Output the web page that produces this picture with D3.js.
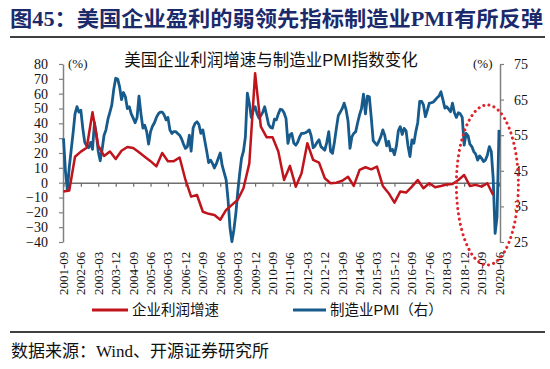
<!DOCTYPE html>
<html><head><meta charset="utf-8">
<script src="https://cdn.jsdelivr.net/npm/d3@7"></script>
<style>body{margin:0;background:#fff}svg{display:block}</style>
</head><body>
<svg id="c" width="550" height="369"></svg>
<script>
const startMonth = "2001-09";
const tickLabels = ["2001-09","2002-06","2003-03","2003-12","2004-09","2005-06","2006-03","2006-12","2007-09","2008-06","2009-03","2009-12","2010-09","2011-06","2012-03","2012-12","2013-09","2014-06","2015-03","2015-12","2016-09","2017-06","2018-03","2018-12","2019-09","2020-06"];
const leftTicks = [80,70,60,50,40,30,20,10,0,-10,-20,-30,-40];
const rightTicks = [75,65,55,45,35,25];
// 企业利润增速 (quarterly, from 2001-09)
const profitGrowth = [-6,-5.3,17.5,20.9,23.5,47.5,25,18,21,16,21.5,24,23.3,20.5,17.5,14.5,11,20,14.5,14.5,17,2,-9.4,-8.3,-19.6,-21,-21.8,-25,-18.4,-15,-11.6,-3.8,13,73.8,37.8,30.6,30.6,21,1.8,11.3,-2.7,6.3,26.6,15.3,13.5,3,-0.4,0,1.3,4,-2.2,8.6,10.4,9,10.8,-2.2,-7.1,-13.5,-6,-6.7,-2.7,1.8,-3.8,-0.4,-3.1,-2.2,-1.2,-0.9,1.8,5.2,-2.2,-1.5,-2.7,-0.4,-8.3];
// 制造业PMI (monthly, from 2001-09)
const pmi = [54.1,45,39.5,46,51,56,61,63,61.5,62,57,53,52,51.5,53,51,58.5,55,50.5,47.8,51,55,56.5,59.5,61.5,63.5,68,71,70.8,68.5,65,67,65.8,62.5,63,61,59.8,58.5,60,66,61,57,57.8,56,52.5,56,57.5,58.5,60,61,61.5,61.5,60.7,59.3,60,56.5,55.5,56,56,55.5,55,54,52.5,51.3,51.8,55,50.5,57,58.3,58.8,58,55.5,56.5,53.5,50.5,47.3,48,47,45.8,47,48.5,50,46.5,44.5,42.5,37,29,25.1,28.4,33,38.7,44,48.5,50.5,54.5,66.8,64,60,62,63,61,59.8,60.5,61.5,63,60.5,58,57.2,57,59.5,59.3,61,62.3,62.1,61.3,59.7,52.7,55.1,55.5,52.8,52.2,53,54.5,55.5,55.5,55.7,56,56.5,54.8,51.5,52,53,53.7,51.8,51.3,50.8,53,56,50.5,49.9,53,57,60.5,61.5,62.5,64,62.1,59,51.3,54.6,55.5,56,58.5,60.8,62.5,66.5,61,66,65.8,60,53.5,52.8,52.2,53.3,54.6,56.5,55,52,53.3,50.6,51,49.5,52,56.3,57.4,55.2,56.9,56.2,52,49,53.7,52.7,56,58.5,64.5,64.5,63.5,60.2,62,64,64.1,64.3,64.9,65.5,66,67.2,65,62.6,63,62.3,61.6,64,61.3,60,61.3,61,60,52.2,55.5,54.8,52.5,51.8,50.4,49.7,48,49.2,48.5,47.6,48,49.4,51.8,50.4,43,27.4,32.1,56.5];

const svg = d3.select("#c");
const parse = d3.timeParse("%Y-%m");
const t0 = parse(startMonth);
const t1 = d3.timeMonth.offset(t0, pmi.length - 1);
const x = d3.scaleTime().domain([t0, t1]).range([63.5, 499]);
const yL = d3.scaleLinear().domain([-40, 80]).range([242, 64]);
const yR = d3.scaleLinear().domain([25, 75]).range([242, 64]);
const serif = "'Liberation Serif','Times New Roman',serif";
const sans = "'Liberation Sans','Noto Sans CJK SC',sans-serif";
const axisCol = "#808080";

// title
svg.append("text").attr("x", 10).attr("y", 26)
  .attr("font-family", "'Liberation Serif','Noto Sans CJK SC',serif")
  .attr("font-weight", "bold").attr("font-size", 21).attr("fill", "#1b2a6b")
  .attr("textLength", 533).attr("lengthAdjust", "spacingAndGlyphs")
  .text("图45：美国企业盈利的弱领先指标制造业PMI有所反弹");
svg.append("line").attr("x1", 10).attr("x2", 545).attr("y1", 37).attr("y2", 37)
  .attr("stroke", "#404040").attr("stroke-width", 2);

// subtitle
svg.append("text").attr("x", 271).attr("y", 66).attr("text-anchor", "middle")
  .attr("font-family", sans).attr("font-size", 16.5).attr("fill", "#111")
  .text("美国企业利润增速与制造业PMI指数变化");

// left axis
const gL = svg.append("g").attr("transform", "translate(63,0)")
  .call(d3.axisLeft(yL).tickValues(leftTicks).tickSize(4).tickSizeOuter(0).tickPadding(11));
// right axis
const gR = svg.append("g").attr("transform", "translate(500,0)")
  .call(d3.axisRight(yR).tickValues(rightTicks).tickSize(4).tickSizeOuter(0).tickPadding(10));
[gL, gR].forEach(g => {
  g.select(".domain").attr("stroke", axisCol).attr("stroke-width", 1.5);
  g.selectAll(".tick line").attr("stroke", axisCol).attr("stroke-width", 1.2);
  g.selectAll(".tick text").attr("font-family", serif).attr("font-size", 14).attr("fill", "#111");
});

// x axis at zero
const tickDates = tickLabels.map(parse);
const gX = svg.append("g").attr("transform", `translate(0,${yL(0)})`)
  .call(d3.axisBottom(x).tickValues(tickDates).tickSize(4).tickSizeOuter(0).tickFormat(""));
gX.select(".domain").attr("stroke", "#6e6e6e").attr("stroke-width", 1.5);
gX.selectAll(".tick line").attr("stroke", "#6e6e6e").attr("stroke-width", 1.2);

// rotated x labels at bottom
svg.append("g").selectAll("text").data(tickLabels).join("text")
  .attr("transform", d => `translate(${x(parse(d)) + 4.5},295) rotate(-90)`)
  .attr("font-family", serif).attr("font-size", 13).attr("fill", "#111")
  .text(d => d);

// (%) labels
svg.append("text").attr("x", 68).attr("y", 68).attr("font-family", serif).attr("font-size", 13).attr("fill", "#111").text("(%)");
svg.append("text").attr("x", 473).attr("y", 68).attr("font-family", serif).attr("font-size", 13).attr("fill", "#111").text("(%)");

// lines
const redData = profitGrowth.map((v, i) => ({ t: d3.timeMonth.offset(t0, i * 3), v }));
const blueData = pmi.map((v, i) => ({ t: d3.timeMonth.offset(t0, i), v }));
svg.append("path").datum(blueData)
  .attr("d", d3.line().x(d => x(d.t)).y(d => yR(d.v)))
  .attr("fill", "none").attr("stroke", "#175a8c").attr("stroke-width", 2.8).attr("stroke-linejoin", "round");
svg.append("path").datum(redData)
  .attr("d", d3.line().x(d => x(d.t)).y(d => yL(d.v)))
  .attr("fill", "none").attr("stroke", "#c0141c").attr("stroke-width", 2.5).attr("stroke-linejoin", "round");

// dotted ellipse highlight
svg.append("ellipse").attr("cx", x(parse("2019-12"))).attr("cy", 185).attr("rx", 31).attr("ry", 80)
  .attr("fill", "none").attr("stroke", "#e0242c").attr("stroke-width", 3)
  .attr("stroke-dasharray", "0.1 5.2").attr("stroke-linecap", "round");

// legend
const lg = svg.append("g");
lg.append("line").attr("x1", 92).attr("x2", 128).attr("y1", 310).attr("y2", 310).attr("stroke", "#c0141c").attr("stroke-width", 3);
lg.append("text").attr("x", 132).attr("y", 315).attr("font-family", sans).attr("font-size", 14.5).attr("fill", "#111").text("企业利润增速");
lg.append("line").attr("x1", 293).attr("x2", 326).attr("y1", 310).attr("y2", 310).attr("stroke", "#175a8c").attr("stroke-width", 3);
lg.append("text").attr("x", 330).attr("y", 315).attr("font-family", sans).attr("font-size", 14.5).attr("fill", "#111").text("制造业PMI（右）");

svg.append("line").attr("x1", 10).attr("x2", 545).attr("y1", 332).attr("y2", 332)
  .attr("stroke", "#404040").attr("stroke-width", 2);
svg.append("text").attr("x", 11).attr("y", 357)
  .attr("font-family", "'Liberation Serif','Noto Sans CJK SC',serif").attr("font-size", 17).attr("fill", "#111")
  .text("数据来源：Wind、开源证券研究所");
</script>
</body></html>
